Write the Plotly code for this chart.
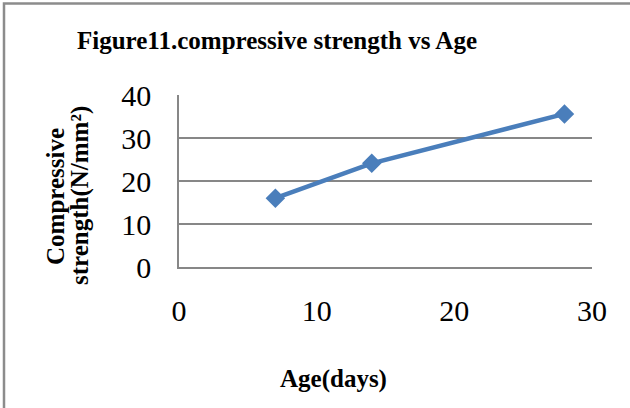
import plotly.graph_objects as go

age_days = [7, 14, 28]
strength = [16.0, 24.1, 35.6]
x_ticks = [0, 10, 20, 30]
y_ticks = [0, 10, 20, 30, 40]

W, H = 630, 408
L, R, T, B = 179, 38, 95, 141
PW, PH = W - L - R, H - T - B

def px(x):
    return (x - L) / PW

def py(y):
    return (H - B - y) / PH

SERIF = "Liberation Serif, Times New Roman, serif"
GRID = "#878787"

fig = go.Figure()
fig.add_trace(go.Scatter(
    x=age_days, y=strength, mode="lines+markers",
    line=dict(color="#4A7EBB", width=4.5),
    marker=dict(symbol="diamond", size=15, color="#4A7EBB"),
    showlegend=False, cliponaxis=False,
))

fig.update_layout(
    width=W, height=H,
    margin=dict(l=L, r=R, t=T, b=B),
    paper_bgcolor="white", plot_bgcolor="white",
    font=dict(family=SERIF, color="black"),
    xaxis=dict(range=[0, 30], tickvals=x_ticks, showgrid=False, zeroline=False,
               showline=True, linecolor=GRID, linewidth=1.5,
               tickfont=dict(size=30, family=SERIF), ticks="",
               ticklabelstandoff=16, fixedrange=True),
    yaxis=dict(range=[0, 40], tickvals=y_ticks, showgrid=True, gridcolor=GRID,
               gridwidth=1.5, zeroline=False, showline=True, linecolor=GRID,
               linewidth=1.5, tickfont=dict(size=30, family=SERIF), ticks="",
               ticklabelstandoff=20, fixedrange=True),
    shapes=[dict(type="rect", xref="paper", yref="paper",
                 x0=px(4), x1=px(660), y0=py(3.5), y1=py(440),
                 line=dict(color="#8C8C8C", width=2.5), layer="below")],
    annotations=[
        dict(text="<b>Figure11.compressive strength vs Age</b>", xref="paper", yref="paper",
             x=px(75), y=py(40), xanchor="left", yanchor="middle", showarrow=False,
             font=dict(size=25, family=SERIF)),
        dict(text="<b>Age(days)</b>", xref="paper", yref="paper",
             x=px(333), y=py(379), xanchor="center", yanchor="middle", showarrow=False,
             font=dict(size=25, family=SERIF)),
        dict(text="<b>Compressive</b>", xref="paper", yref="paper", textangle=-90,
             x=px(55), y=py(196), xanchor="center", yanchor="middle", showarrow=False,
             font=dict(size=25, family=SERIF)),
        dict(text="<b>strength(N/mm²)</b>", xref="paper", yref="paper", textangle=-90,
             x=px(80), y=py(196), xanchor="center", yanchor="middle", showarrow=False,
             font=dict(size=25, family=SERIF)),
    ],
)

fig.write_html("out.html", config={"displayModeBar": False},
               post_script="document.body.style.margin='0';document.body.style.overflow='hidden';")
